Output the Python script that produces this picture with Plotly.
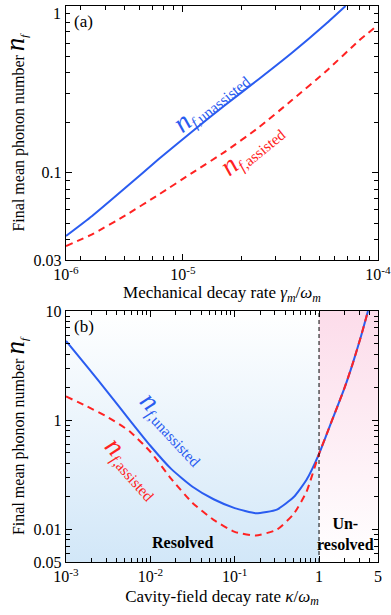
import math
import plotly.graph_objects as go

# ---------------- Panel (a) data ----------------
gamma_unassisted = [2.52e-6, 3.43e-6, 5.08e-6, 7.53e-6, 1.117e-5, 1.656e-5, 2.455e-5, 3.64e-5, 5.40e-5, 6.82e-5]
nf_a_unassisted = [0.0418, 0.0551, 0.0813, 0.121, 0.177, 0.256, 0.365, 0.526, 0.780, 1.0]
gamma_assisted = [2.52e-6, 3.43e-6, 5.08e-6, 7.53e-6, 1.117e-5, 1.656e-5, 2.455e-5, 3.64e-5, 5.40e-5, 8.0e-5, 1.0e-4]
nf_a_assisted = [0.0364, 0.0428, 0.0556, 0.0741, 0.100, 0.1346, 0.1875, 0.274, 0.405, 0.621, 0.769]

a_xrange = [2.52e-6, 1e-4]
a_yrange = [0.03, 1]
a_xtickvals = [2.52e-6, 1e-5, 1e-4]
a_xticktext = ["10<sup>-6</sup>", "10<sup>-5</sup>", "10<sup>-4</sup>"]
a_ytickvals = [0.03, 0.1, 1]
a_yticktext = ["0.03", "0.1", ""]
a_top_label = "1"

# ---------------- Panel (b) data ----------------
kappa = [0.001, 0.001778, 0.003162, 0.005623, 0.01, 0.01778, 0.03162, 0.05623, 0.1, 0.1778,
         0.3162, 0.5012, 0.7079, 1.0, 1.259, 1.585, 1.995, 2.512, 3.162, 3.802]
nf_b_unassisted = [5.32, 3.09, 1.778, 1.012, 0.582, 0.355, 0.245, 0.188, 0.156, 0.140,
                   0.151, 0.197, 0.282, 0.490, 0.776, 1.23, 1.95, 3.31, 5.96, 10.0]
nf_b_assisted = [1.648, 1.334, 1.059, 0.794, 0.513, 0.288, 0.174, 0.1216, 0.0944, 0.0875,
                 0.0989, 0.138, 0.219, 0.490, 0.776, 1.23, 1.95, 3.31, 5.96, 10.0]

b_xrange = [1e-3, 5]
b_yrange = [0.05, 10]
b_boundary = 1.0
b_xtickvals = [1e-3, 1e-2, 1e-1, 1, 5]
b_xticktext = ["10<sup>-3</sup>", "10<sup>-2</sup>", "10<sup>-1</sup>", "1", "5"]
b_ytickvals = [0.05, 0.1, 1, 10]
b_yticktext = ["0.05", "0.01", "1", "10"]

BLUE = "#2a5cf0"
RED = "#ff2222"
FONT = "Liberation Serif"


def minor_vals(lo, hi):
    vals = []
    e0 = math.floor(math.log10(lo)) - 1
    e1 = math.ceil(math.log10(hi)) + 1
    for e in range(e0, e1):
        for d in range(2, 10):
            v = d * 10 ** e
            if lo * 1.0001 < v < hi * 0.9999:
                vals.append(v)
    return vals


fig = go.Figure()

# Background regions panel (b)
fig.add_trace(go.Scatter(
    x=[b_xrange[0], b_boundary, b_boundary, b_xrange[0], b_xrange[0]],
    y=[b_yrange[0], b_yrange[0], b_yrange[1], b_yrange[1], b_yrange[0]],
    xaxis="x2", yaxis="y2", mode="lines", line=dict(width=0),
    fill="toself",
    fillgradient=dict(type="vertical", colorscale=[[0, "#d2e7f8"], [1, "#ffffff"]]),
    hoverinfo="skip", showlegend=False))
fig.add_trace(go.Scatter(
    x=[b_boundary, b_xrange[1], b_xrange[1], b_boundary, b_boundary],
    y=[b_yrange[0], b_yrange[0], b_yrange[1], b_yrange[1], b_yrange[0]],
    xaxis="x2", yaxis="y2", mode="lines", line=dict(width=0),
    fill="toself",
    fillgradient=dict(type="vertical", colorscale=[[0, "#ffffff"], [1, "#fcdcea"]]),
    hoverinfo="skip", showlegend=False))

# Panel (a) curves
fig.add_trace(go.Scatter(x=gamma_unassisted, y=nf_a_unassisted, mode="lines",
                         line=dict(color=BLUE, width=2, shape="spline", smoothing=0.5),
                         xaxis="x", yaxis="y", showlegend=False, hoverinfo="skip"))
fig.add_trace(go.Scatter(x=gamma_assisted, y=nf_a_assisted, mode="lines",
                         line=dict(color=RED, width=2, dash="7px,5px", shape="spline", smoothing=0.5),
                         xaxis="x", yaxis="y", showlegend=False, hoverinfo="skip"))

# Panel (b) curves
fig.add_trace(go.Scatter(x=kappa, y=nf_b_unassisted, mode="lines",
                         line=dict(color=BLUE, width=2, shape="spline", smoothing=0.5),
                         xaxis="x2", yaxis="y2", showlegend=False, hoverinfo="skip"))
fig.add_trace(go.Scatter(x=kappa, y=nf_b_assisted, mode="lines",
                         line=dict(color=RED, width=2, dash="7px,5px", shape="spline", smoothing=0.5),
                         xaxis="x2", yaxis="y2", showlegend=False, hoverinfo="skip"))

axis_common = dict(type="log", showline=True, linecolor="black", linewidth=1.4,
                   ticks="inside", ticklen=6, tickwidth=1.2, tickcolor="black",
                   mirror="ticks", showgrid=False, zeroline=False, automargin=False,
                   ticklabeloverflow="allow",
                   tickfont=dict(size=16, family=FONT, color="black"))


def minor(lo, hi):
    return dict(tickmode="array", tickvals=minor_vals(lo, hi), ticks="inside",
                ticklen=3.5, tickwidth=1, tickcolor="black", showgrid=False)


ytitle = ("Final mean phonon number <span style='font-size:27px'><i>n</i></span>"
          "<sub><i>f</i></sub>")

fig.update_layout(
    width=391, height=615,
    margin=dict(l=66, r=13, t=6, b=53),
    paper_bgcolor="white", plot_bgcolor="white",
    font=dict(family=FONT, size=15, color="black"),
    hovermode=False,
    xaxis=dict(axis_common, domain=[0, 1], anchor="y",
               range=[math.log10(a_xrange[0]), math.log10(a_xrange[1])],
               tickmode="array", tickvals=a_xtickvals, ticktext=a_xticktext,
               minor=minor(*a_xrange),
               title=dict(text="Mechanical decay rate <i>γ<sub>m</sub></i>/<i>ω<sub>m</sub></i>",
                          font=dict(size=17), standoff=0)),
    yaxis=dict(axis_common, domain=[0.543, 1], anchor="x",
               range=[math.log10(a_yrange[0]), math.log10(a_yrange[1])],
               tickmode="array", tickvals=a_ytickvals, ticktext=a_yticktext,
               minor=minor(*a_yrange),
               title=dict(text=ytitle, font=dict(size=16), standoff=4)),
    xaxis2=dict(axis_common, domain=[0, 1], anchor="y2",
                range=[math.log10(b_xrange[0]), math.log10(b_xrange[1])],
                tickmode="array", tickvals=b_xtickvals, ticktext=b_xticktext,
                minor=minor(*b_xrange),
                title=dict(text="Cavity-field decay rate <i>κ</i>/<i>ω<sub>m</sub></i>",
                           font=dict(size=17), standoff=5)),
    yaxis2=dict(axis_common, domain=[0, 0.4514], anchor="x2",
                range=[math.log10(b_yrange[0]), math.log10(b_yrange[1])],
                tickmode="array", tickvals=b_ytickvals, ticktext=b_yticktext,
                minor=minor(*b_yrange),
                title=dict(text=ytitle, font=dict(size=16), standoff=4)),
)

# dashed boundary line at kappa = omega_m
fig.add_shape(type="line", xref="x2", yref="y2 domain", x0=b_boundary, x1=b_boundary,
              y0=0, y1=1, line=dict(color="black", width=1, dash="4px,3px"))

ann = []
ann.append(dict(text=a_top_label, xref="x domain", yref="y domain", x=0, y=1,
                xanchor="right", yanchor="middle", xshift=-3, yshift=-7,
                showarrow=False, font=dict(size=16)))
ann.append(dict(text="(a)", xref="x domain", yref="y domain", x=0.02, y=0.985,
                xanchor="left", yanchor="top", showarrow=False, font=dict(size=17)))
ann.append(dict(text="(b)", xref="x2 domain", yref="y2 domain", x=0.02, y=0.985,
                xanchor="left", yanchor="top", showarrow=False, font=dict(size=17)))


def label(txt, color, xr, yr, x, y, angle):
    return dict(text="<span style='font-size:28px'><i>n</i></span><sub><i>f</i>," + txt + "</sub>",
                xref=xr, yref=yr, x=x, y=y, showarrow=False, textangle=angle,
                font=dict(size=22, color=color), xanchor="center", yanchor="middle")


ann.append(label("unassisted", BLUE, "x domain", "y domain", 0.460, 0.63, -39))
ann.append(label("assisted", RED, "x domain", "y domain", 0.593, 0.44, -39))
ann.append(label("unassisted", BLUE, "x2 domain", "y2 domain", 0.345, 0.535, 47))
ann.append(label("assisted", RED, "x2 domain", "y2 domain", 0.215, 0.375, 48))

ann.append(dict(text="<b>Resolved</b>", xref="x2 domain", yref="y2 domain", x=0.373, y=0.078,
                showarrow=False, font=dict(size=16), xanchor="center", yanchor="middle"))
ann.append(dict(text="<b>Un-</b><br><b>resolved</b>", xref="x2 domain", yref="y2 domain",
                x=0.897, y=0.11, showarrow=False, font=dict(size=16), xanchor="center",
                yanchor="middle"))

fig.update_layout(annotations=ann)

fig.write_html("out.html", config={"displayModeBar": False},
               post_script="document.body.style.margin='0px';")
